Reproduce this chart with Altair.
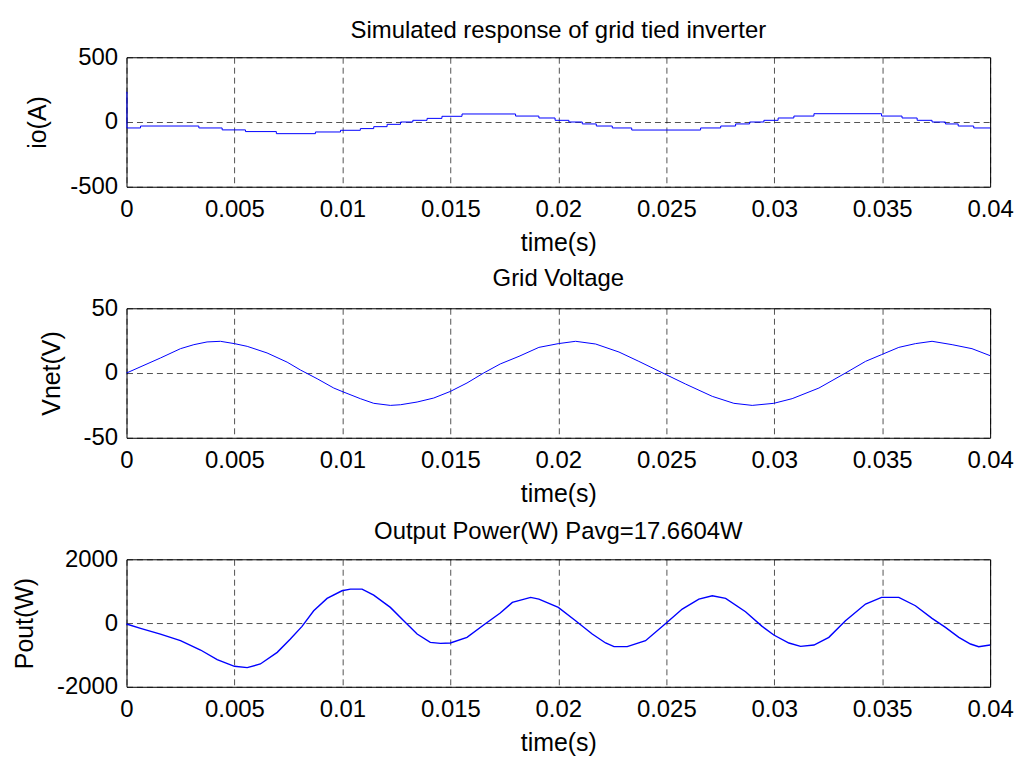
import altair as alt
import pandas as pd

FONT = "Liberation Sans"

# ---- x ticks ----
X_TICKS = [0, 0.005, 0.01, 0.015, 0.02, 0.025, 0.03, 0.035, 0.04]

# ---- io(A): staircase (time of step start, level) ----
io_t = [0, 0.00002, 0.00065, 0.00335, 0.00443, 0.00551, 0.00694, 0.00875, 0.00991,
        0.01083, 0.01145, 0.01207, 0.01269, 0.01326, 0.01392, 0.01461, 0.01554,
        0.01802, 0.01910, 0.01985, 0.02049, 0.02111, 0.02176, 0.02250, 0.02340,
        0.02659, 0.02752, 0.02821, 0.02886, 0.02952, 0.03018, 0.03091, 0.03184,
        0.03497, 0.03592, 0.03662, 0.03731, 0.03793, 0.03852, 0.03924, 0.04]
io_v = [231, -46, -31, -46, -61, -74, -90, -77, -64,
        -51, -36, -18, 0, 13, 28, 44, 62,
        46, 31, 13, 0, -15, -31, -46, -62,
        -46, -31, -15, 0, 13, 31, 46, 64,
        46, 31, 13, 0, -15, -31, -46, -46]

# ---- Vnet(V) ----
v_t = [0, 0.00157, 0.0025, 0.00312, 0.00373, 0.00435, 0.005, 0.00559, 0.00651, 0.00744,
       0.00806, 0.00883, 0.0096, 0.00998, 0.01083, 0.01145, 0.01222, 0.01269, 0.01346,
       0.01423, 0.015, 0.01577, 0.01654, 0.01731, 0.01818, 0.0191, 0.02, 0.0208, 0.02173,
       0.02281, 0.02373, 0.025, 0.02589, 0.02713, 0.02813, 0.02898, 0.02998, 0.03083,
       0.03207, 0.0333, 0.03423, 0.03497, 0.03577, 0.03654, 0.03731, 0.03824, 0.03916, 0.04]
v_v = [0, 11.6, 18.8, 21.9, 24, 24.5, 22.7, 20.6, 15.5, 8.4,
       2.3, -4.4, -11.6, -14.2, -19.8, -23.4, -25, -24.5, -22.4,
       -19.3, -14.2, -7.7, 0, 7, 12.9, 19.8, 22.7, 24.5, 22.4,
       16.2, 9, -1.3, -8.5, -18, -23.4, -25, -23.4, -19.8,
       -11.6, 0, 9, 14.2, 19.8, 22.7, 24.5, 21.9, 18.8, 13.4]

# ---- Pout(W) ----
p_t = [0, 0.00065, 0.00157, 0.0025, 0.00343, 0.0042, 0.005, 0.00559, 0.0062, 0.00698,
       0.00759, 0.00813, 0.00867, 0.00929, 0.00998, 0.01037, 0.01091, 0.01145, 0.01222,
       0.01284, 0.01346, 0.01407, 0.01454, 0.015, 0.01577, 0.01654, 0.01731, 0.01787,
       0.01872, 0.0191, 0.02, 0.0208, 0.02157, 0.02219, 0.02258, 0.02319, 0.02404, 0.025,
       0.02574, 0.02651, 0.02713, 0.02775, 0.02867, 0.02944, 0.02998, 0.03068, 0.03122,
       0.03184, 0.03253, 0.0333, 0.03423, 0.03497, 0.03577, 0.03654, 0.03731, 0.03793,
       0.03855, 0.03909, 0.03947, 0.04]
p_v = [-31, -167, -345, -553, -846, -1148, -1357, -1399, -1284, -919,
       -501, -104, 386, 773, 1013, 1065, 1065, 877, 491,
       73, -345, -606, -637, -626, -449, -63, 313, 647,
       804, 752, 491, 73, -345, -626, -741, -741, -553, 0,
       438, 752, 856, 773, 355, -104, -376, -626, -731,
       -689, -449, 73, 595, 804, 804, 543, 146, -136,
       -449, -658, -741, -689]

TITLES = ["Simulated response of grid tied inverter", "Grid Voltage",
          "Output Power(W) Pavg=17.6604W"]
Y_TITLES = ["io(A)", "Vnet(V)", "Pout(W)"]
Y_TICKS = [[-500, 0, 500], [-50, 0, 50], [-2000, 0, 2000]]


def panel(t, v, title, ytitle, yticks, height, interp, title_offset, sw):
    df = pd.DataFrame({"t": t, "v": v})
    return alt.Chart(df, title=alt.Title(title, offset=title_offset, frame="group")).mark_line(
        color="#0000ff", strokeWidth=sw, interpolate=interp
    ).encode(
        x=alt.X("t:Q", scale=alt.Scale(domain=[0, 0.04], nice=False, zero=False),
                axis=alt.Axis(values=X_TICKS, labelExpr="datum.value + ''", title="time(s)")),
        y=alt.Y("v:Q", scale=alt.Scale(domain=[yticks[0], yticks[-1]], nice=False, zero=False),
                axis=alt.Axis(values=yticks, labelExpr="datum.value + ''", title=ytitle)),
    ).properties(width=867, height=height)


p1 = panel(io_t, io_v, TITLES[0], Y_TITLES[0], Y_TICKS[0], 130, "step-after", 2, 1)
p2 = panel(v_t, v_v, TITLES[1], Y_TITLES[1], Y_TICKS[1], 130, "linear", 5, 1)
p3 = panel(p_t, p_v, TITLES[2], Y_TITLES[2], Y_TICKS[2], 128, "linear", 3, 1.4)

chart = alt.vconcat(p1, p2, p3, spacing=122, bounds="flush").properties(
    padding={"left": 12, "top": 17, "right": 10, "bottom": 0},
    background="white",
).configure_view(
    stroke="black", strokeWidth=1
).configure_title(
    font=FONT, fontSize=24, fontWeight="normal", color="black", anchor="middle",
    baseline="alphabetic"
).configure_axis(
    labelFont=FONT, labelFontSize=24, labelColor="black", labelFlush=False,
    labelOverlap=False,
    titleFont=FONT, titleFontSize=25, titleFontWeight="normal", titleColor="black",
    ticks=False, domain=False,
    grid=True, gridColor="black", gridDash=[6, 4], gridWidth=0.8, gridOpacity=0.85,
).configure_axisX(
    labelPadding=11, titlePadding=9
).configure_axisY(
    labelPadding=9, titlePadding=19
)

chart.save("out.html", embed_options={"renderer": "svg", "actions": False})
